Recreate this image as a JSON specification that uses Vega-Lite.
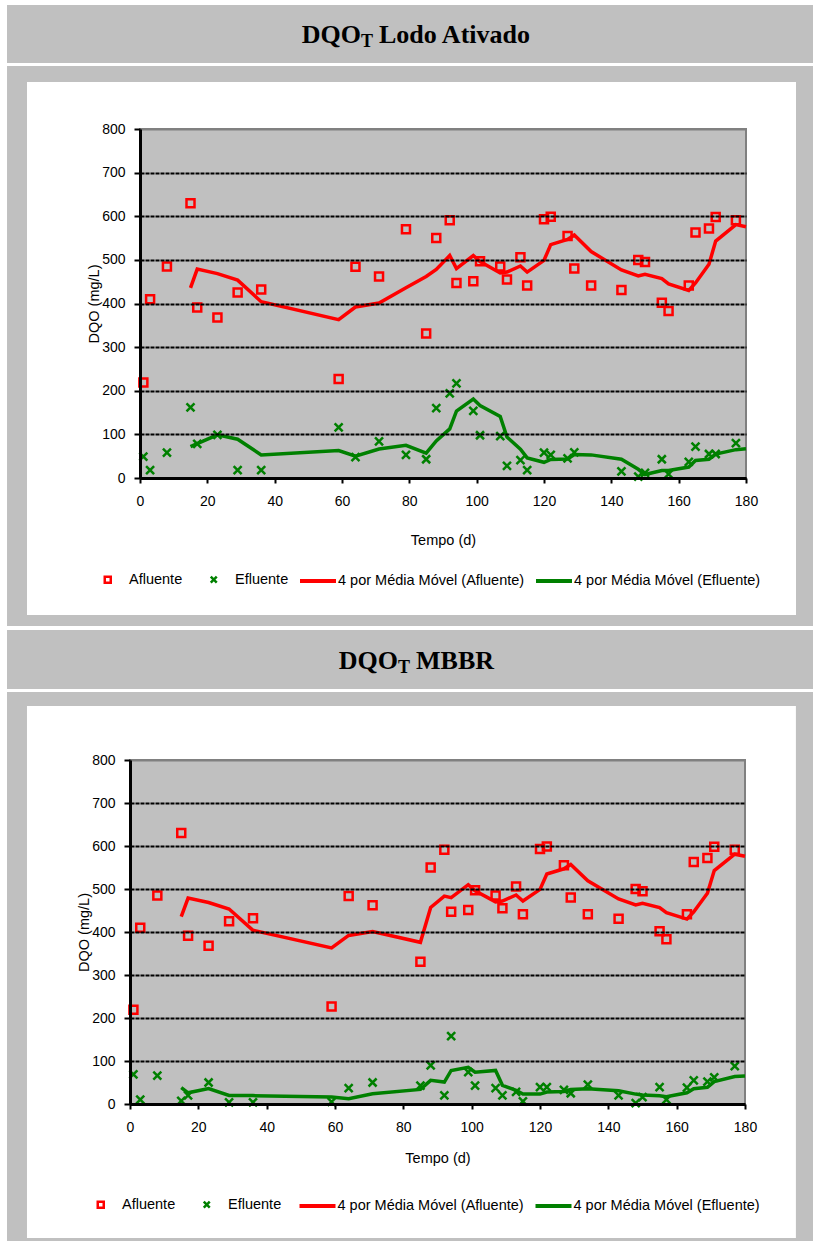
{
  "$schema": "https://vega.github.io/schema/vega-lite/v6.json",
  "background": "white",
  "padding": {"left": 7, "top": 5, "right": 0, "bottom": 0},
  "spacing": 3,
  "config": {
    "font": "Liberation Sans",
    "view": {"stroke": null},
    "axis": {
      "labelFont": "Liberation Sans",
      "labelFontSize": 14,
      "labelColor": "black",
      "labelFlush": false,
      "titleFont": "Liberation Sans",
      "titleFontSize": 14.5,
      "titleFontWeight": "normal",
      "titleColor": "black",
      "domainColor": "black",
      "domainWidth": 3,
      "tickColor": "black",
      "tickWidth": 2,
      "grid": false
    },
    "legend": {
      "labelFont": "Liberation Sans",
      "labelFontSize": 14.5,
      "labelColor": "black",
      "labelLimit": 400,
      "padding": 0
    }
  },
  "resolve": {
    "scale": {"x": "independent", "y": "independent", "color": "independent", "shape": "independent", "stroke": "independent"},
    "legend": {"color": "independent", "shape": "independent", "stroke": "independent"}
  },
  "datasets": {
    "pts1": [
      {"d":1,"v":219,"s":"Afluente"},{"d":3,"v":410,"s":"Afluente"},{"d":8,"v":485,"s":"Afluente"},{"d":15,"v":630,"s":"Afluente"},{"d":17,"v":391,"s":"Afluente"},{"d":23,"v":368,"s":"Afluente"},{"d":29,"v":425,"s":"Afluente"},{"d":36,"v":432,"s":"Afluente"},{"d":59,"v":227,"s":"Afluente"},{"d":64,"v":484,"s":"Afluente"},{"d":71,"v":462,"s":"Afluente"},{"d":79,"v":570,"s":"Afluente"},{"d":85,"v":331,"s":"Afluente"},{"d":88,"v":550,"s":"Afluente"},{"d":92,"v":591,"s":"Afluente"},{"d":94,"v":447,"s":"Afluente"},{"d":99,"v":451,"s":"Afluente"},{"d":101,"v":497,"s":"Afluente"},{"d":107,"v":485,"s":"Afluente"},{"d":109,"v":455,"s":"Afluente"},{"d":113,"v":506,"s":"Afluente"},{"d":115,"v":441,"s":"Afluente"},{"d":120,"v":593,"s":"Afluente"},{"d":122,"v":599,"s":"Afluente"},{"d":127,"v":555,"s":"Afluente"},{"d":129,"v":480,"s":"Afluente"},{"d":134,"v":441,"s":"Afluente"},{"d":143,"v":431,"s":"Afluente"},{"d":148,"v":500,"s":"Afluente"},{"d":150,"v":495,"s":"Afluente"},{"d":155,"v":402,"s":"Afluente"},{"d":157,"v":383,"s":"Afluente"},{"d":163,"v":441,"s":"Afluente"},{"d":165,"v":563,"s":"Afluente"},{"d":169,"v":572,"s":"Afluente"},{"d":171,"v":598,"s":"Afluente"},{"d":177,"v":591,"s":"Afluente"},
      {"d":1,"v":49,"s":"Efluente"},{"d":3,"v":18,"s":"Efluente"},{"d":8,"v":58,"s":"Efluente"},{"d":15,"v":162,"s":"Efluente"},{"d":17,"v":78,"s":"Efluente"},{"d":23,"v":99,"s":"Efluente"},{"d":29,"v":18,"s":"Efluente"},{"d":36,"v":18,"s":"Efluente"},{"d":59,"v":116,"s":"Efluente"},{"d":64,"v":48,"s":"Efluente"},{"d":71,"v":84,"s":"Efluente"},{"d":79,"v":53,"s":"Efluente"},{"d":85,"v":43,"s":"Efluente"},{"d":88,"v":160,"s":"Efluente"},{"d":92,"v":194,"s":"Efluente"},{"d":94,"v":217,"s":"Efluente"},{"d":99,"v":154,"s":"Efluente"},{"d":101,"v":98,"s":"Efluente"},{"d":107,"v":96,"s":"Efluente"},{"d":109,"v":28,"s":"Efluente"},{"d":113,"v":41,"s":"Efluente"},{"d":115,"v":18,"s":"Efluente"},{"d":120,"v":58,"s":"Efluente"},{"d":122,"v":53,"s":"Efluente"},{"d":127,"v":45,"s":"Efluente"},{"d":129,"v":59,"s":"Efluente"},{"d":143,"v":15,"s":"Efluente"},{"d":148,"v":3,"s":"Efluente"},{"d":150,"v":12,"s":"Efluente"},{"d":155,"v":43,"s":"Efluente"},{"d":157,"v":9,"s":"Efluente"},{"d":163,"v":37,"s":"Efluente"},{"d":165,"v":72,"s":"Efluente"},{"d":169,"v":55,"s":"Efluente"},{"d":171,"v":55,"s":"Efluente"},{"d":177,"v":80,"s":"Efluente"}
    ],
    "ma1": [
      {"d":15,"v":436,"s":"4 por Média Móvel (Afluente)"},{"d":17,"v":479,"s":"4 por Média Móvel (Afluente)"},{"d":23,"v":468.5,"s":"4 por Média Móvel (Afluente)"},{"d":29,"v":453.5,"s":"4 por Média Móvel (Afluente)"},{"d":36,"v":404,"s":"4 por Média Móvel (Afluente)"},{"d":59,"v":363,"s":"4 por Média Móvel (Afluente)"},{"d":64,"v":392,"s":"4 por Média Móvel (Afluente)"},{"d":71,"v":401,"s":"4 por Média Móvel (Afluente)"},{"d":79,"v":436,"s":"4 por Média Móvel (Afluente)"},{"d":85,"v":462,"s":"4 por Média Móvel (Afluente)"},{"d":88,"v":478,"s":"4 por Média Móvel (Afluente)"},{"d":92,"v":510,"s":"4 por Média Móvel (Afluente)"},{"d":94,"v":480,"s":"4 por Média Móvel (Afluente)"},{"d":99,"v":510,"s":"4 por Média Móvel (Afluente)"},{"d":101,"v":496,"s":"4 por Média Móvel (Afluente)"},{"d":107,"v":470,"s":"4 por Média Móvel (Afluente)"},{"d":109,"v":472,"s":"4 por Média Móvel (Afluente)"},{"d":113,"v":486,"s":"4 por Média Móvel (Afluente)"},{"d":115,"v":472,"s":"4 por Média Móvel (Afluente)"},{"d":120,"v":499,"s":"4 por Média Móvel (Afluente)"},{"d":122,"v":535,"s":"4 por Média Móvel (Afluente)"},{"d":127,"v":547,"s":"4 por Média Móvel (Afluente)"},{"d":129,"v":557,"s":"4 por Média Móvel (Afluente)"},{"d":134,"v":519,"s":"4 por Média Móvel (Afluente)"},{"d":143,"v":477,"s":"4 por Média Móvel (Afluente)"},{"d":148,"v":463,"s":"4 por Média Móvel (Afluente)"},{"d":150,"v":467,"s":"4 por Média Móvel (Afluente)"},{"d":155,"v":457,"s":"4 por Média Móvel (Afluente)"},{"d":157,"v":445,"s":"4 por Média Móvel (Afluente)"},{"d":163,"v":430,"s":"4 por Média Móvel (Afluente)"},{"d":165,"v":447,"s":"4 por Média Móvel (Afluente)"},{"d":169,"v":490,"s":"4 por Média Móvel (Afluente)"},{"d":171,"v":543,"s":"4 por Média Móvel (Afluente)"},{"d":177,"v":581,"s":"4 por Média Móvel (Afluente)"},{"d":180,"v":576,"s":"4 por Média Móvel (Afluente)"},
      {"d":15,"v":72,"s":"4 por Média Móvel (Efluente)"},{"d":17,"v":79,"s":"4 por Média Móvel (Efluente)"},{"d":23,"v":99,"s":"4 por Média Móvel (Efluente)"},{"d":29,"v":89,"s":"4 por Média Móvel (Efluente)"},{"d":36,"v":53,"s":"4 por Média Móvel (Efluente)"},{"d":59,"v":63,"s":"4 por Média Móvel (Efluente)"},{"d":64,"v":50,"s":"4 por Média Móvel (Efluente)"},{"d":71,"v":66.5,"s":"4 por Média Móvel (Efluente)"},{"d":79,"v":75,"s":"4 por Média Móvel (Efluente)"},{"d":85,"v":57,"s":"4 por Média Móvel (Efluente)"},{"d":88,"v":85,"s":"4 por Média Móvel (Efluente)"},{"d":92,"v":112.5,"s":"4 por Média Móvel (Efluente)"},{"d":94,"v":153.5,"s":"4 por Média Móvel (Efluente)"},{"d":99,"v":181,"s":"4 por Média Móvel (Efluente)"},{"d":101,"v":166,"s":"4 por Média Móvel (Efluente)"},{"d":107,"v":141,"s":"4 por Média Móvel (Efluente)"},{"d":109,"v":94,"s":"4 por Média Móvel (Efluente)"},{"d":113,"v":66,"s":"4 por Média Móvel (Efluente)"},{"d":115,"v":46,"s":"4 por Média Móvel (Efluente)"},{"d":120,"v":36,"s":"4 por Média Móvel (Efluente)"},{"d":122,"v":42.5,"s":"4 por Média Móvel (Efluente)"},{"d":127,"v":43.5,"s":"4 por Média Móvel (Efluente)"},{"d":129,"v":54,"s":"4 por Média Móvel (Efluente)"},{"d":134,"v":53,"s":"4 por Média Móvel (Efluente)"},{"d":143,"v":43,"s":"4 por Média Móvel (Efluente)"},{"d":148,"v":20,"s":"4 por Média Móvel (Efluente)"},{"d":150,"v":8,"s":"4 por Média Móvel (Efluente)"},{"d":155,"v":17,"s":"4 por Média Móvel (Efluente)"},{"d":157,"v":17,"s":"4 por Média Móvel (Efluente)"},{"d":163,"v":25,"s":"4 por Média Móvel (Efluente)"},{"d":165,"v":40,"s":"4 por Média Móvel (Efluente)"},{"d":169,"v":43,"s":"4 por Média Móvel (Efluente)"},{"d":171,"v":55,"s":"4 por Média Móvel (Efluente)"},{"d":177,"v":65,"s":"4 por Média Móvel (Efluente)"},{"d":180,"v":67,"s":"4 por Média Móvel (Efluente)"}
    ],
    "pts2": [
      {"d":1,"v":219,"s":"Afluente"},{"d":3,"v":410,"s":"Afluente"},{"d":8,"v":485,"s":"Afluente"},{"d":15,"v":630,"s":"Afluente"},{"d":17,"v":391,"s":"Afluente"},{"d":23,"v":368,"s":"Afluente"},{"d":29,"v":425,"s":"Afluente"},{"d":36,"v":432,"s":"Afluente"},{"d":59,"v":227,"s":"Afluente"},{"d":64,"v":484,"s":"Afluente"},{"d":71,"v":462,"s":"Afluente"},{"d":85,"v":331,"s":"Afluente"},{"d":88,"v":550,"s":"Afluente"},{"d":92,"v":591,"s":"Afluente"},{"d":94,"v":447,"s":"Afluente"},{"d":99,"v":451,"s":"Afluente"},{"d":101,"v":497,"s":"Afluente"},{"d":107,"v":485,"s":"Afluente"},{"d":109,"v":455,"s":"Afluente"},{"d":113,"v":506,"s":"Afluente"},{"d":115,"v":441,"s":"Afluente"},{"d":120,"v":593,"s":"Afluente"},{"d":122,"v":599,"s":"Afluente"},{"d":127,"v":555,"s":"Afluente"},{"d":129,"v":480,"s":"Afluente"},{"d":134,"v":441,"s":"Afluente"},{"d":143,"v":431,"s":"Afluente"},{"d":148,"v":500,"s":"Afluente"},{"d":150,"v":495,"s":"Afluente"},{"d":155,"v":402,"s":"Afluente"},{"d":157,"v":383,"s":"Afluente"},{"d":163,"v":441,"s":"Afluente"},{"d":165,"v":563,"s":"Afluente"},{"d":169,"v":572,"s":"Afluente"},{"d":171,"v":598,"s":"Afluente"},{"d":177,"v":591,"s":"Afluente"},
      {"d":1,"v":69,"s":"Efluente"},{"d":3,"v":10,"s":"Efluente"},{"d":8,"v":66,"s":"Efluente"},{"d":15,"v":7,"s":"Efluente"},{"d":17,"v":20,"s":"Efluente"},{"d":23,"v":50,"s":"Efluente"},{"d":29,"v":4,"s":"Efluente"},{"d":36,"v":4,"s":"Efluente"},{"d":59,"v":5,"s":"Efluente"},{"d":64,"v":37,"s":"Efluente"},{"d":71,"v":50,"s":"Efluente"},{"d":85,"v":43,"s":"Efluente"},{"d":88,"v":90,"s":"Efluente"},{"d":92,"v":20,"s":"Efluente"},{"d":94,"v":158,"s":"Efluente"},{"d":99,"v":74,"s":"Efluente"},{"d":101,"v":43,"s":"Efluente"},{"d":107,"v":37,"s":"Efluente"},{"d":109,"v":20,"s":"Efluente"},{"d":113,"v":28,"s":"Efluente"},{"d":115,"v":6,"s":"Efluente"},{"d":120,"v":39,"s":"Efluente"},{"d":122,"v":39,"s":"Efluente"},{"d":127,"v":33,"s":"Efluente"},{"d":129,"v":25,"s":"Efluente"},{"d":134,"v":45,"s":"Efluente"},{"d":143,"v":20,"s":"Efluente"},{"d":148,"v":2,"s":"Efluente"},{"d":150,"v":16,"s":"Efluente"},{"d":155,"v":39,"s":"Efluente"},{"d":157,"v":10,"s":"Efluente"},{"d":163,"v":38,"s":"Efluente"},{"d":165,"v":55,"s":"Efluente"},{"d":169,"v":52,"s":"Efluente"},{"d":171,"v":62,"s":"Efluente"},{"d":177,"v":88,"s":"Efluente"}
    ],
    "ma2": [
      {"d":15,"v":436,"s":"4 por Média Móvel (Afluente)"},{"d":17,"v":479,"s":"4 por Média Móvel (Afluente)"},{"d":23,"v":468.5,"s":"4 por Média Móvel (Afluente)"},{"d":29,"v":453.5,"s":"4 por Média Móvel (Afluente)"},{"d":36,"v":404,"s":"4 por Média Móvel (Afluente)"},{"d":59,"v":363,"s":"4 por Média Móvel (Afluente)"},{"d":64,"v":392,"s":"4 por Média Móvel (Afluente)"},{"d":71,"v":401,"s":"4 por Média Móvel (Afluente)"},{"d":85,"v":376,"s":"4 por Média Móvel (Afluente)"},{"d":88,"v":457,"s":"4 por Média Móvel (Afluente)"},{"d":92,"v":483.5,"s":"4 por Média Móvel (Afluente)"},{"d":94,"v":480,"s":"4 por Média Móvel (Afluente)"},{"d":99,"v":510,"s":"4 por Média Móvel (Afluente)"},{"d":101,"v":496,"s":"4 por Média Móvel (Afluente)"},{"d":107,"v":470,"s":"4 por Média Móvel (Afluente)"},{"d":109,"v":472,"s":"4 por Média Móvel (Afluente)"},{"d":113,"v":486,"s":"4 por Média Móvel (Afluente)"},{"d":115,"v":472,"s":"4 por Média Móvel (Afluente)"},{"d":120,"v":499,"s":"4 por Média Móvel (Afluente)"},{"d":122,"v":535,"s":"4 por Média Móvel (Afluente)"},{"d":127,"v":547,"s":"4 por Média Móvel (Afluente)"},{"d":129,"v":557,"s":"4 por Média Móvel (Afluente)"},{"d":134,"v":519,"s":"4 por Média Móvel (Afluente)"},{"d":143,"v":477,"s":"4 por Média Móvel (Afluente)"},{"d":148,"v":463,"s":"4 por Média Móvel (Afluente)"},{"d":150,"v":467,"s":"4 por Média Móvel (Afluente)"},{"d":155,"v":457,"s":"4 por Média Móvel (Afluente)"},{"d":157,"v":445,"s":"4 por Média Móvel (Afluente)"},{"d":163,"v":430,"s":"4 por Média Móvel (Afluente)"},{"d":165,"v":447,"s":"4 por Média Móvel (Afluente)"},{"d":169,"v":490,"s":"4 por Média Móvel (Afluente)"},{"d":171,"v":543,"s":"4 por Média Móvel (Afluente)"},{"d":177,"v":581,"s":"4 por Média Móvel (Afluente)"},{"d":180,"v":576,"s":"4 por Média Móvel (Afluente)"},
      {"d":15,"v":38,"s":"4 por Média Móvel (Efluente)"},{"d":17,"v":26,"s":"4 por Média Móvel (Efluente)"},{"d":23,"v":36,"s":"4 por Média Móvel (Efluente)"},{"d":29,"v":20,"s":"4 por Média Móvel (Efluente)"},{"d":36,"v":19.5,"s":"4 por Média Móvel (Efluente)"},{"d":59,"v":16,"s":"4 por Média Móvel (Efluente)"},{"d":64,"v":12.5,"s":"4 por Média Móvel (Efluente)"},{"d":71,"v":24,"s":"4 por Média Móvel (Efluente)"},{"d":85,"v":34,"s":"4 por Média Móvel (Efluente)"},{"d":88,"v":55,"s":"4 por Média Móvel (Efluente)"},{"d":92,"v":51,"s":"4 por Média Móvel (Efluente)"},{"d":94,"v":78,"s":"4 por Média Móvel (Efluente)"},{"d":99,"v":85.5,"s":"4 por Média Móvel (Efluente)"},{"d":101,"v":74,"s":"4 por Média Móvel (Efluente)"},{"d":107,"v":78,"s":"4 por Média Móvel (Efluente)"},{"d":109,"v":43.5,"s":"4 por Média Móvel (Efluente)"},{"d":113,"v":32,"s":"4 por Média Móvel (Efluente)"},{"d":115,"v":23,"s":"4 por Média Móvel (Efluente)"},{"d":120,"v":23,"s":"4 por Média Móvel (Efluente)"},{"d":122,"v":28,"s":"4 por Média Móvel (Efluente)"},{"d":127,"v":29,"s":"4 por Média Móvel (Efluente)"},{"d":129,"v":34,"s":"4 por Média Móvel (Efluente)"},{"d":134,"v":35.5,"s":"4 por Média Móvel (Efluente)"},{"d":143,"v":31,"s":"4 por Média Móvel (Efluente)"},{"d":148,"v":23,"s":"4 por Média Móvel (Efluente)"},{"d":150,"v":21,"s":"4 por Média Móvel (Efluente)"},{"d":155,"v":19,"s":"4 por Média Móvel (Efluente)"},{"d":157,"v":17,"s":"4 por Média Móvel (Efluente)"},{"d":163,"v":26,"s":"4 por Média Móvel (Efluente)"},{"d":165,"v":35.5,"s":"4 por Média Móvel (Efluente)"},{"d":169,"v":39,"s":"4 por Média Móvel (Efluente)"},{"d":171,"v":52,"s":"4 por Média Móvel (Efluente)"},{"d":177,"v":64,"s":"4 por Média Móvel (Efluente)"},{"d":180,"v":65,"s":"4 por Média Móvel (Efluente)"}
    ]
  },
  "vconcat": [
    {
      "width": 806,
      "height": 58,
      "view": {"fill": "#c0c0c0", "stroke": null},
      "data": {"values": [{"a": "DQO", "b": "T", "c": "Lodo Ativado"}]},
      "layer": [
        {"mark": {"type": "text", "font": "Liberation Serif", "fontWeight": "bold", "fontSize": 26, "align": "right", "baseline": "alphabetic", "dx": -49, "dy": 9, "color": "black"}, "encoding": {"text": {"field": "a"}}},
        {"mark": {"type": "text", "font": "Liberation Serif", "fontWeight": "bold", "fontSize": 18, "align": "left", "baseline": "alphabetic", "dx": -49, "dy": 13, "color": "black"}, "encoding": {"text": {"field": "b"}}},
        {"mark": {"type": "text", "font": "Liberation Serif", "fontWeight": "bold", "fontSize": 26, "align": "left", "baseline": "alphabetic", "dx": -31, "dy": 9, "color": "black"}, "encoding": {"text": {"field": "c"}}}
      ]
    },
    {
      "spacing": -1,
      "resolve": {
        "scale": {"x": "independent", "y": "independent", "color": "independent", "shape": "independent", "stroke": "independent"},
        "legend": {"color": "independent", "shape": "independent", "stroke": "independent"}
      },
      "hconcat": [
        {
          "width": 1,
          "height": 1,
          "data": {"values": [{}]},
          "mark": {"type": "point", "opacity": 0, "size": 0, "strokeWidth": 0}
        },
        {
          "width": 606,
          "height": 349,
          "layer": [
            {
              "data": {"values": [{}]},
              "mark": {"type": "rect", "fill": "#c0c0c0"},
              "encoding": {
                "x": {"datum": -39.5, "type": "quantitative", "scale": {"domain": [0, 180], "nice": false, "zero": false},
                      "axis": {"title": "Tempo (d)", "zindex": 2, "values": [0,20,40,60,80,100,120,140,160,180], "tickSize": 5, "labelPadding": 11, "titlePadding": 25}},
                "x2": {"datum": 199.9},
                "y": {"datum": 944.4, "type": "quantitative", "scale": {"domain": [0, 800], "nice": false},
                      "axis": {"title": "DQO (mg/L)", "zindex": 2, "values": [0,100,200,300,400,500,600,700,800], "tickSize": 6, "labelPadding": 9, "titlePadding": 0, "grid": true, "gridWidth": 2, "gridColor": {"condition": {"test": "datum.value >= 800", "value": "#808080"}, "value": "black"}, "gridDash": {"condition": {"test": "datum.value >= 800", "value": [1, 0]}, "value": [4, 1]}}},
                "y2": {"datum": -339.3}
              }
            },
            {
              "data": {"values": [{}]},
              "mark": {"type": "rect", "fill": "white"},
              "encoding": {
                "x": {"datum": -33.56, "type": "quantitative"},
                "x2": {"datum": 194.85},
                "y": {"datum": 907.7, "type": "quantitative"},
                "y2": {"datum": -314}
              }
            },
            {
              "data": {"values": [{}]},
              "mark": {"type": "rect", "fill": "#c0c0c0", "stroke": "#808080", "strokeWidth": 2},
              "encoding": {
                "x": {"datum": 0, "type": "quantitative"},
                "x2": {"datum": 180},
                "y": {"datum": 800, "type": "quantitative"},
                "y2": {"datum": 0}
              }
            },
            {
              "data": {"name": "pts1"},
              "mark": {"type": "point", "filled": false, "strokeWidth": 2.5, "size": 64, "opacity": 1},
              "encoding": {
                "x": {"field": "d", "type": "quantitative"},
                "y": {"field": "v", "type": "quantitative"},
                "color": {
                  "field": "s", "type": "nominal",
                  "scale": {"domain": ["Afluente", "Efluente"], "range": ["#ff0000", "#008000"]},
                  "legend": {"orient": "none", "legendX": -39.5, "legendY": 443, "direction": "horizontal", "title": null, "symbolSize": 36, "symbolStrokeWidth": 2.5, "labelOffset": 14, "columnPadding": 23}
                },
                "shape": {
                  "field": "s", "type": "nominal",
                  "scale": {"domain": ["Afluente", "Efluente"], "range": ["square", "M-1,-1L1,1M-1,1L1,-1"]},
                  "legend": {"orient": "none", "legendX": -39.5, "legendY": 443, "direction": "horizontal", "title": null, "symbolSize": 36, "symbolStrokeWidth": 2.5, "labelOffset": 14, "columnPadding": 23}
                }
              }
            },
            {
              "data": {"name": "ma1"},
              "mark": {"type": "line", "strokeWidth": 3.5},
              "encoding": {
                "x": {"field": "d", "type": "quantitative"},
                "y": {"field": "v", "type": "quantitative"},
                "stroke": {
                  "field": "s", "type": "nominal",
                  "scale": {"domain": ["4 por Média Móvel (Afluente)", "4 por Média Móvel (Efluente)"], "range": ["#ff0000", "#008000"]},
                  "legend": {"orient": "none", "legendX": 158, "legendY": 432, "direction": "horizontal", "title": null, "symbolType": "stroke", "symbolSize": 1296, "symbolStrokeWidth": 4, "labelOffset": 0, "columnPadding": 3}
                }
              }
            }
          ]
        }
      ]
    },
    {
      "width": 806,
      "height": 59,
      "view": {"fill": "#c0c0c0", "stroke": null},
      "data": {"values": [{"a": "DQO", "b": "T", "c": "MBBR"}]},
      "layer": [
        {"mark": {"type": "text", "font": "Liberation Serif", "fontWeight": "bold", "fontSize": 26, "align": "right", "baseline": "alphabetic", "dx": -12, "dy": 9, "color": "black"}, "encoding": {"text": {"field": "a"}}},
        {"mark": {"type": "text", "font": "Liberation Serif", "fontWeight": "bold", "fontSize": 18, "align": "left", "baseline": "alphabetic", "dx": -12, "dy": 13, "color": "black"}, "encoding": {"text": {"field": "b"}}},
        {"mark": {"type": "text", "font": "Liberation Serif", "fontWeight": "bold", "fontSize": 26, "align": "left", "baseline": "alphabetic", "dx": 6, "dy": 9, "color": "black"}, "encoding": {"text": {"field": "c"}}}
      ]
    },
    {
      "spacing": -1,
      "resolve": {
        "scale": {"x": "independent", "y": "independent", "color": "independent", "shape": "independent", "stroke": "independent"},
        "legend": {"color": "independent", "shape": "independent", "stroke": "independent"}
      },
      "hconcat": [
        {
          "width": 1,
          "height": 1,
          "data": {"values": [{}]},
          "mark": {"type": "point", "opacity": 0, "size": 0, "strokeWidth": 0}
        },
        {
          "width": 615,
          "height": 344,
          "layer": [
            {
              "data": {"values": [{}]},
              "mark": {"type": "rect", "fill": "#c0c0c0"},
              "encoding": {
                "x": {"datum": -36.0, "type": "quantitative", "scale": {"domain": [0, 180], "nice": false, "zero": false},
                      "axis": {"title": "Tempo (d)", "zindex": 2, "values": [0,20,40,60,80,100,120,140,160,180], "tickSize": 5, "labelPadding": 11, "titlePadding": 17}},
                "x2": {"datum": 199.9},
                "y": {"datum": 958.1, "type": "quantitative", "scale": {"domain": [0, 800], "nice": false},
                      "axis": {"title": "DQO (mg/L)", "zindex": 2, "values": [0,100,200,300,400,500,600,700,800], "tickSize": 6, "labelPadding": 9, "titlePadding": 0, "grid": true, "gridWidth": 2, "gridColor": {"condition": {"test": "datum.value >= 800", "value": "#808080"}, "value": "black"}, "gridDash": {"condition": {"test": "datum.value >= 800", "value": [1, 0]}, "value": [4, 1]}}},
                "y2": {"datum": -340}
              }
            },
            {
              "data": {"values": [{}]},
              "mark": {"type": "rect", "fill": "white"},
              "encoding": {
                "x": {"datum": -30.15, "type": "quantitative"},
                "x2": {"datum": 194.9},
                "y": {"datum": 925.6, "type": "quantitative"},
                "y2": {"datum": -311.6}
              }
            },
            {
              "data": {"values": [{}]},
              "mark": {"type": "rect", "fill": "#c0c0c0", "stroke": "#808080", "strokeWidth": 2},
              "encoding": {
                "x": {"datum": 0, "type": "quantitative"},
                "x2": {"datum": 180},
                "y": {"datum": 800, "type": "quantitative"},
                "y2": {"datum": 0}
              }
            },
            {
              "data": {"name": "pts2"},
              "mark": {"type": "point", "filled": false, "strokeWidth": 2.5, "size": 64, "opacity": 1},
              "encoding": {
                "x": {"field": "d", "type": "quantitative"},
                "y": {"field": "v", "type": "quantitative"},
                "color": {
                  "field": "s", "type": "nominal",
                  "scale": {"domain": ["Afluente", "Efluente"], "range": ["#ff0000", "#008000"]},
                  "legend": {"orient": "none", "legendX": -36.5, "legendY": 437, "direction": "horizontal", "title": null, "symbolSize": 36, "symbolStrokeWidth": 2.5, "labelOffset": 14, "columnPadding": 23}
                },
                "shape": {
                  "field": "s", "type": "nominal",
                  "scale": {"domain": ["Afluente", "Efluente"], "range": ["square", "M-1,-1L1,1M-1,1L1,-1"]},
                  "legend": {"orient": "none", "legendX": -36.5, "legendY": 437, "direction": "horizontal", "title": null, "symbolSize": 36, "symbolStrokeWidth": 2.5, "labelOffset": 14, "columnPadding": 23}
                }
              }
            },
            {
              "data": {"name": "ma2"},
              "mark": {"type": "line", "strokeWidth": 3.5},
              "encoding": {
                "x": {"field": "d", "type": "quantitative"},
                "y": {"field": "v", "type": "quantitative"},
                "stroke": {
                  "field": "s", "type": "nominal",
                  "scale": {"domain": ["4 por Média Móvel (Afluente)", "4 por Média Móvel (Efluente)"], "range": ["#ff0000", "#008000"]},
                  "legend": {"orient": "none", "legendX": 167.5, "legendY": 426, "direction": "horizontal", "title": null, "symbolType": "stroke", "symbolSize": 1296, "symbolStrokeWidth": 4, "labelOffset": 0, "columnPadding": 3}
                }
              }
            }
          ]
        }
      ]
    }
  ]
}
